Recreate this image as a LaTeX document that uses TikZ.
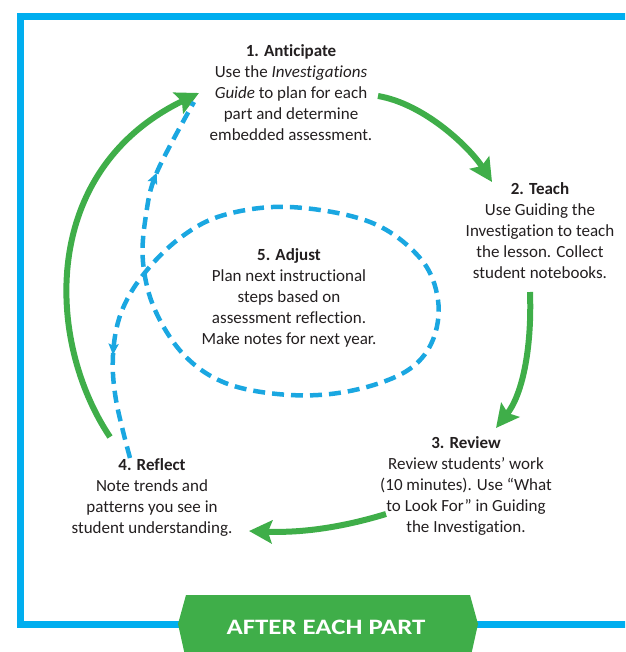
\documentclass[tikz,border=0pt]{standalone}
\usepackage{fontspec}
\setmainfont[Ligatures={NoCommon}]{Carlito}
\usepackage{graphicx}
\usetikzlibrary{arrows.meta,decorations.markings}
\definecolor{frameblue}{HTML}{00AEEF}
\definecolor{dashblue}{HTML}{1AA7E1}
\definecolor{cyclegreen}{HTML}{3FAE49}
\definecolor{textgray}{HTML}{231F20}
\begin{document}
\begin{tikzpicture}[x=1pt,y=-1pt,
  stepnote/.style={align=center, inner sep=0pt, text=textgray, font=\fontsize{17}{21}\selectfont},
  greenarrow/.style={draw=cyclegreen, line width=6pt, -{Stealth[length=23pt,width=23pt,inset=4pt]}},
  dashline/.style={draw=dashblue, line width=4.5pt, dash pattern=on 12pt off 7pt},
  bannertext/.style={text=white, inner sep=0pt, font=\fontsize{22}{26}\selectfont\bfseries}
]
\useasboundingbox (0,0) rectangle (625,652);
\clip (0,0) rectangle (625,652);
% frame
\draw[frameblue, line width=7pt] (20.5,16.5) rectangle (680,624);
% banner
\fill[cyclegreen] (186,595) -- (470,595) -- (478,624) -- (470,660) -- (186,660) -- (178,624) -- cycle;
\node[bannertext] (banner) at (326,627) {\scalebox{1.22}[1]{AFTER EACH PART}};

% text blocks
\node[stepnote] (anticipate) at (291,93) {\textbf{1. Anticipate}\\Use the \textit{Investigations}\\\textit{Guide} to plan for each\\part and determine\\embedded assessment.};
\node[stepnote] (teach) at (540,231) {\textbf{2. Teach}\\Use Guiding the\\Investigation to teach\\the lesson. Collect\\student notebooks.};
\node[stepnote] (review) at (466,486) {\textbf{3. Review}\\Review students’ work\\(10 minutes). Use “What\\to Look For” in Guiding\\the Investigation.};
\node[stepnote] (reflect) at (152,497) {\textbf{4. Reflect}\\Note trends and\\patterns you see in\\student understanding.};
\node[stepnote] (adjust) at (289,298) {\textbf{5. Adjust}\\Plan next instructional\\steps based on\\assessment reflection.\\Make notes for next year.};

% connector ends
\coordinate (g1s) at (378,96);  \coordinate (g1e) at (492,182);
\coordinate (g2s) at (530,292); \coordinate (g2e) at (496,428);
\coordinate (g3s) at (386,514); \coordinate (g3e) at (249,531);
\coordinate (g4s) at (110,437); \coordinate (g4e) at (199,93);
\coordinate (rf) at (130,458);  \coordinate (an) at (194,102);

% green cycle arrows
\draw[greenarrow] (g1s) .. controls (425,104) and (470,148) .. (g1e);
\draw[greenarrow] (g2s) .. controls (532,350) and (522,395) .. (g2e);
\draw[greenarrow] (g3s) .. controls (340,528) and (300,533) .. (g3e);
\draw[greenarrow] (g4s) .. controls (45,340) and (40,170) .. (g4e);

% blue dashed spiral through Adjust
\draw[dashline, postaction={decorate, decoration={markings,
    mark=at position 105pt with {\arrowreversed[dashblue]{Stealth[length=11pt,width=10pt,inset=2pt]}},
    mark=at position -80pt with {\arrow[dashblue]{Stealth[length=11pt,width=10pt,inset=2pt]}}}}]
  plot[smooth, tension=0.6] coordinates {(rf) (116,400) (113,355) (121,313) (143,275) (180,238) (224,215) (290,207) (370,222) (420,258) (438,300) (432,342) (405,372) (350,391) (290,395) (228,384) (185,356) (155,310) (143,262) (146,215) (157,172) (an)};
\end{tikzpicture}
\end{document}
